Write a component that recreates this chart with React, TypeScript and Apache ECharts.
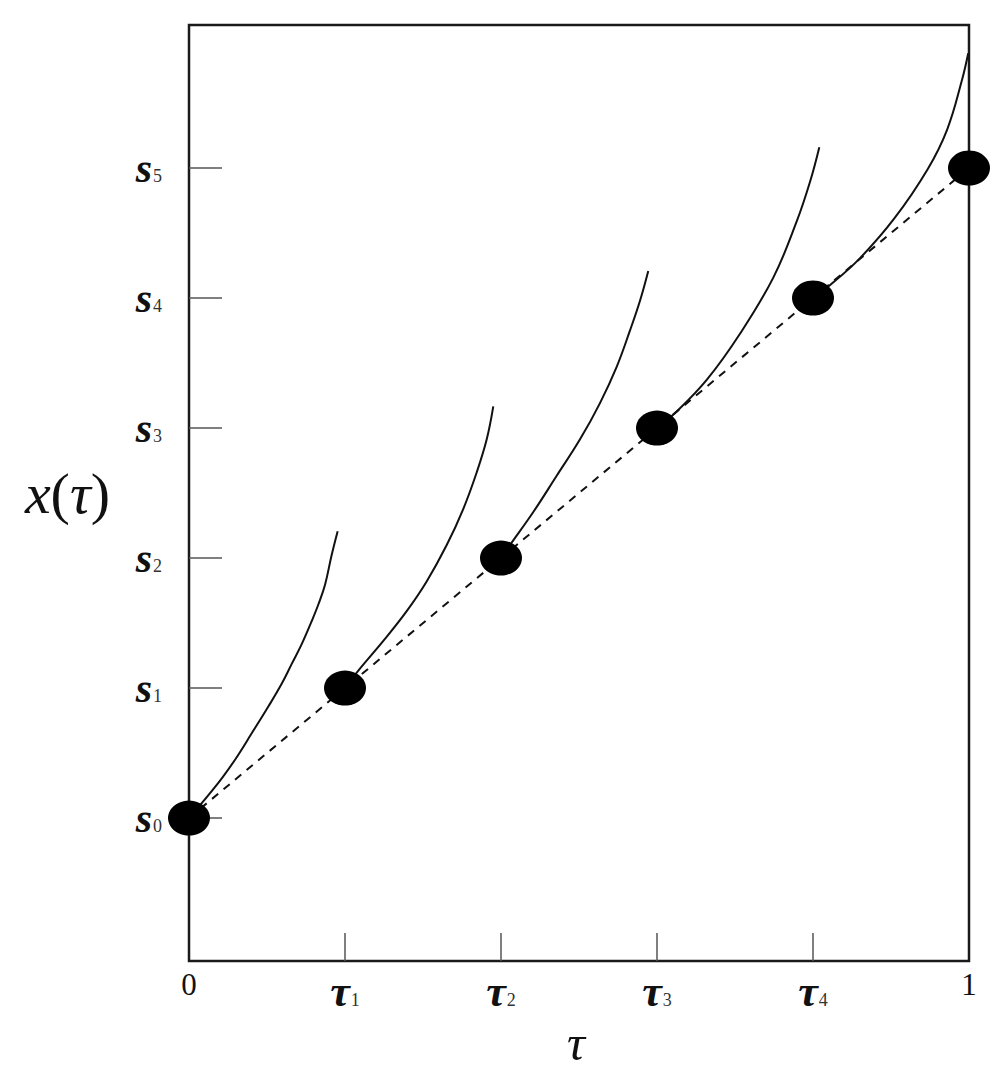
import React, { useEffect, useRef } from "react";
import * as echarts from "echarts";

const tauValues = [0, 0.2, 0.4, 0.6, 0.8, 1];
const tauLabels = ["0", "1", "2", "3", "4", "1"];
const sValues = [0, 1, 2, 3, 4, 5];
const sLabels = ["0", "1", "2", "3", "4", "5"];

const curve0 = [[0, 0], [0.0376, 0.271], [0.059, 0.449], [0.0804, 0.652], [0.1017, 0.858], [0.1188, 1.033], [0.1317, 1.186], [0.1445, 1.338], [0.1573, 1.515], [0.1658, 1.643], [0.1744, 1.795], [0.1829, 2.024], [0.1906, 2.207]];
const curve1 = [[0.2, 1], [0.2171, 1.1345], [0.2491, 1.363], [0.2791, 1.592], [0.3047, 1.82], [0.3304, 2.1], [0.3517, 2.379], [0.3688, 2.658], [0.3817, 2.913], [0.3901, 3.166]];
const curve2 = [[0.4, 2], [0.4115, 2.1], [0.4414, 2.354], [0.4714, 2.633], [0.5013, 2.913], [0.5269, 3.192], [0.5483, 3.471], [0.5654, 3.751], [0.5782, 3.979], [0.5888, 4.208]];
const curve3 = [[0.6, 3], [0.6231, 3.115], [0.6637, 3.37], [0.7064, 3.725], [0.7491, 4.157], [0.7791, 4.589], [0.7962, 4.894], [0.8081, 5.16]];
const curve4 = [[0.8, 4], [0.822, 4.1], [0.86, 4.305], [0.904, 4.61], [0.947, 4.991], [0.972, 5.296], [0.991, 5.677], [0.999, 5.883]];
const dashedLine = [[0, 0], [1, 5]];

const FONT = "'Liberation Serif', 'DejaVu Serif', serif";

export default function App() {
  const ref = useRef<HTMLDivElement>(null);
  useEffect(() => {
    if (!ref.current) return;
    const chart = echarts.init(ref.current, null, { renderer: "svg" });
    const curves = [curve0, curve1, curve2, curve3, curve4];
    const option: any = {
      animation: false,
      backgroundColor: "#ffffff",
      grid: {
        left: 189,
        right: 37,
        top: 25,
        bottom: 103,
        show: true,
        borderColor: "#1a1a1a",
        borderWidth: 2.5,
        backgroundColor: "transparent",
      },
      xAxis: {
        type: "value",
        min: 0,
        max: 1,
        name: "τ",
        nameLocation: "middle",
        nameGap: 44,
        nameTextStyle: {
          fontFamily: FONT,
          fontSize: 50,
          fontStyle: "italic",
          color: "#111",
          padding: [0, 6, 0, 0],
        },
        axisLine: { show: false, onZero: false },
        splitLine: { show: false },
        axisTick: {
          show: true,
          inside: true,
          length: 28,
          customValues: tauValues.slice(1, 5),
          lineStyle: { color: "#555", width: 1.5 },
        },
        axisLabel: {
          show: true,
          margin: 8,
          customValues: tauValues,
          formatter: (v: number) => {
            const i = tauValues.findIndex((t) => Math.abs(t - v) < 1e-6);
            if (i <= 0 || i === tauValues.length - 1) return "{n|" + tauLabels[i < 0 ? 0 : i] + "}";
            return "{t|τ}{sub|" + tauLabels[i] + "}";
          },
          rich: {
            n: { fontFamily: FONT, fontSize: 31, color: "#111" },
            t: { fontFamily: FONT, fontSize: 44, fontStyle: "italic", fontWeight: "bold", color: "#111" },
            sub: { fontFamily: FONT, fontSize: 18, color: "#333", verticalAlign: "bottom", padding: [0, 0, 4, 1] },
          },
        },
      },
      yAxis: {
        type: "value",
        min: -1.1,
        max: 6.1,
        name: "{i|x}{p|(}{i|τ}{p|)}",
        nameLocation: "middle",
        nameRotate: 0,
        nameGap: 79,
        nameTextStyle: {
          align: "right",
          verticalAlign: "middle",
          rich: {
            i: { fontFamily: FONT, fontSize: 58, fontStyle: "italic", color: "#111" },
            p: { fontFamily: FONT, fontSize: 58, color: "#111" },
          },
        },
        axisLine: { show: false, onZero: false },
        splitLine: { show: false },
        axisTick: {
          show: true,
          inside: true,
          length: 33,
          customValues: sValues,
          lineStyle: { color: "#555", width: 1.5 },
        },
        axisLabel: {
          show: true,
          margin: 27,
          customValues: sValues,
          formatter: (v: number) => {
            const i = sValues.findIndex((t) => Math.abs(t - v) < 1e-6);
            return "{s|s}{sub|" + sLabels[i < 0 ? 0 : i] + "}";
          },
          rich: {
            s: { fontFamily: FONT, fontSize: 42, fontStyle: "italic", fontWeight: "bold", color: "#111" },
            sub: { fontFamily: FONT, fontSize: 18, color: "#333", verticalAlign: "bottom", padding: [0, 0, 4, 1] },
          },
        },
      },
      series: [
        {
          type: "line",
          data: dashedLine,
          symbol: "none",
          lineStyle: { color: "#111", width: 2, type: [8, 7] },
          z: 2,
        },
        ...curves.map((c) => ({
          type: "line",
          data: c,
          symbol: "none",
          smooth: 0.4,
          lineStyle: { color: "#111", width: 2 },
          z: 3,
        })),
        {
          type: "scatter",
          data: tauValues.map((t, i) => [t, sValues[i]]),
          symbol: "circle",
          symbolSize: [42, 35],
          itemStyle: { color: "#000", opacity: 1 },
          clip: false,
          z: 5,
        },
      ],
    };
    chart.setOption(option);
    return () => chart.dispose();
  }, []);
  return (
    <div
      ref={ref}
      style={{ position: "absolute", left: 0, top: 0, width: 1006, height: 1073, background: "#fff" }}
    />
  );
}
